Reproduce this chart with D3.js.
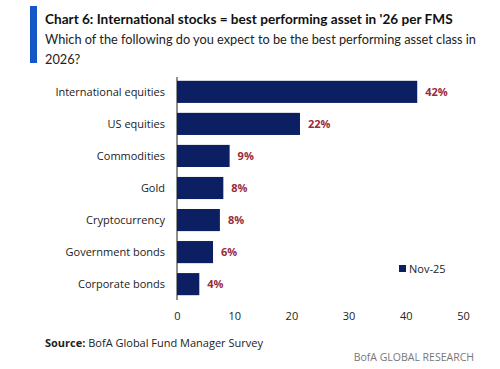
<!DOCTYPE html>
<html><head><meta charset="utf-8">
<script src="https://cdn.jsdelivr.net/npm/d3@7"></script>
<style>body{margin:0;background:#fff}svg{display:block}</style>
</head><body>
<script>
const categories = ["International equities","US equities","Commodities","Gold","Cryptocurrency","Government bonds","Corporate bonds"];
const values = [42, 21.5, 9.2, 8.1, 7.5, 6.3, 3.9];
const valueLabels = ["42%","22%","9%","8%","8%","6%","4%"];
const xTicks = [0,10,20,30,40,50];
const seriesName = "Nov-25";

const W=500,H=369;
const svg=d3.select("body").append("svg").attr("width",W).attr("height",H);
const font="'Open Sans', sans-serif";
const tfont="Lato, 'Open Sans', sans-serif";

function fitText(sel, size, target){
  sel.attr("font-size",size);
  const w=sel.node().getComputedTextLength();
  if(w>target) sel.attr("font-size",size*target/w);
}

svg.append("rect").attr("x",30).attr("y",6).attr("width",7).attr("height",57).attr("fill","#1457c8");
const t1=svg.append("text").attr("x",45).attr("y",24).attr("font-family",tfont).attr("font-weight",700)
  .attr("fill","#111").text("Chart 6: International stocks = best performing asset in '26 per FMS");
fitText(t1,16.5,408);
const t2=svg.append("text").attr("x",45).attr("y",44).attr("font-family",tfont).attr("fill","#222")
  .text("Which of the following do you expect to be the best performing asset class in");
fitText(t2,15.5,431);
svg.append("text").attr("x",45).attr("y",64).attr("font-family",tfont).attr("font-size",t2.attr("font-size")).attr("fill","#222").text("2026?");

const x=d3.scaleLinear().domain([0,50]).range([177,463]);
const y=d3.scaleBand().domain(categories).range([76,300]).paddingInner(0.31).paddingOuter(0.15);

svg.selectAll("rect.bar").data(categories).join("rect").attr("class","bar")
  .attr("x",x(0)).attr("y",d=>y(d)).attr("height",y.bandwidth())
  .attr("width",(d,i)=>x(values[i])-x(0)).attr("fill","#0c1f63");

svg.selectAll("text.val").data(categories).join("text").attr("class","val")
  .attr("x",(d,i)=>x(values[i])+8).attr("y",d=>y(d)+y.bandwidth()/2).attr("dy","0.35em")
  .attr("font-family",font).attr("font-weight",700).attr("font-size",11).attr("fill","#9b2b3c")
  .text((d,i)=>valueLabels[i]);

svg.selectAll("text.cat").data(categories).join("text").attr("class","cat")
  .attr("x",165).attr("y",d=>y(d)+y.bandwidth()/2).attr("dy","0.35em").attr("text-anchor","end")
  .attr("font-family",font).attr("font-size",11).attr("fill","#222").text(d=>d);

svg.append("line").attr("x1",x(0)).attr("x2",x(0)).attr("y1",77).attr("y2",300).attr("stroke","#222").attr("stroke-width",1);

const xa=svg.append("g").attr("transform","translate(0,309)")
  .call(d3.axisBottom(x).tickValues(xTicks).tickSize(0).tickFormat(d3.format("d")));
xa.select(".domain").remove();
xa.selectAll("text").attr("font-family",font).attr("font-size",11).attr("fill","#222");

svg.append("rect").attr("x",399).attr("y",265).attr("width",7).attr("height",7).attr("fill","#0c1f63");
svg.append("text").attr("x",409).attr("y",269).attr("dy","0.35em").attr("font-family",font).attr("font-size",11).attr("fill","#222").text(seriesName);

const src=svg.append("text").attr("x",45).attr("y",343).attr("dy","0.35em").attr("font-family",font).attr("font-size",11).attr("fill","#222");
src.append("tspan").attr("font-weight",700).text("Source:");
src.append("tspan").text(" BofA Global Fund Manager Survey");

svg.append("text").attr("x",474).attr("y",357).attr("dy","0.35em").attr("text-anchor","end").attr("font-family",font)
  .attr("font-size",10.5).attr("fill","#777").text("BofA GLOBAL RESEARCH");
</script>
</body></html>
